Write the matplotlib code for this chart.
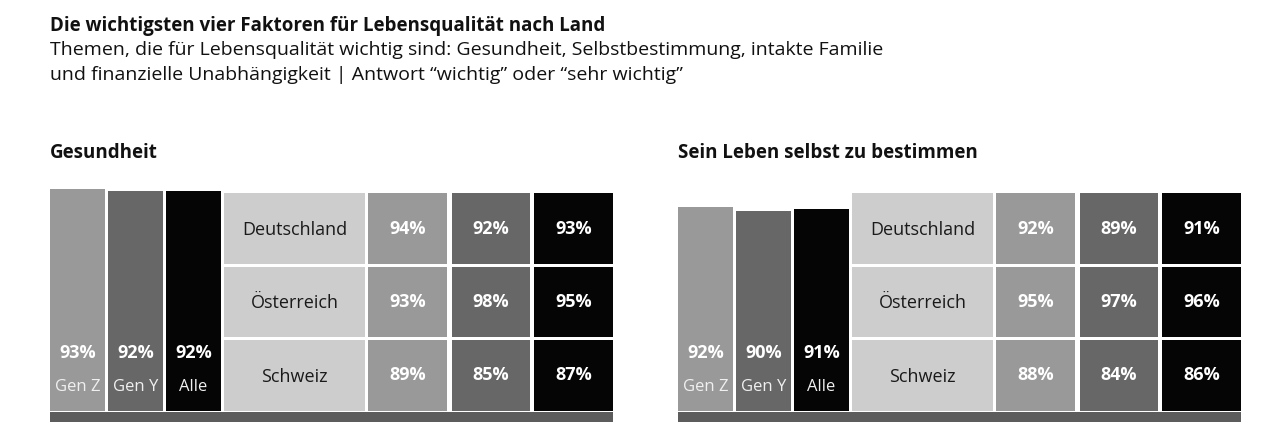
import matplotlib.pyplot as plt
from matplotlib.patches import Rectangle
from matplotlib.transforms import blended_transform_factory

plt.rcParams['font.family'] = ['Open Sans', 'DejaVu Sans']

gruppen = ['Gen Z', 'Gen Y', 'Alle']
laender = ['Deutschland', 'Österreich', 'Schweiz']

# Gesamtwerte je Gruppe und Werte je Land (Zeilen: Länder, Spalten: Gen Z, Gen Y, Alle)
gesundheit_gesamt = [93, 92, 92]
gesundheit_land = [[94, 92, 93],
                   [93, 98, 95],
                   [89, 85, 87]]

selbst_gesamt = [92, 90, 91]
selbst_land = [[92, 89, 91],
               [95, 97, 96],
               [88, 84, 86]]

farben = ['#999999', '#676767', '#050505']
hell = '#cdcdcd'
strich = '#5c5c5c'

W, H = 1280, 440
fig = plt.figure(figsize=(12.8, 4.4), dpi=100)


def box(x0, y0, x1, y1):
    return [x0 / W, 1 - y1 / H, (x1 - x0) / W, (y1 - y0) / H]


fig.text(50 / W, 1 - 26 / H, 'Die wichtigsten vier Faktoren für Lebensqualität nach Land',
         fontsize=13.5, fontweight='bold', va='center', color='#111111')
fig.text(50 / W, 1 - 50 / H,
         'Themen, die für Lebensqualität wichtig sind: Gesundheit, Selbstbestimmung, intakte Familie',
         fontsize=14, va='center', color='#111111')
fig.text(50 / W, 1 - 75 / H,
         'und finanzielle Unabhängigkeit | Antwort \u201cwichtig\u201d oder \u201csehr wichtig\u201d',
         fontsize=14, va='center', color='#111111')


def panel(dx, titel, gesamt, land, ymax):
    fig.text((50 + dx) / W, 1 - 153 / H, titel, fontsize=13.5, fontweight='bold',
             va='center', color='#111111')

    # Säulen für die Gruppen
    ax = fig.add_axes(box(50 + dx, 189, 221 + dx, 411))
    x = list(range(len(gruppen)))
    ax.bar(x, gesamt, width=0.945, color=farben)
    ax.set_xlim(-0.4725, 2.4725)
    ax.set_ylim(0, ymax)
    ax.axis('off')
    tr = blended_transform_factory(ax.transData, ax.transAxes)
    for i, (g, v) in enumerate(zip(gruppen, gesamt)):
        ax.text(i, 0.262, f'{v}%', transform=tr, ha='center', va='center',
                fontsize=13, fontweight='bold', color='white')
        ax.text(i, 0.11, g, transform=tr, ha='center', va='center',
                fontsize=12, color='#f0f0f0')

    # Tabelle nach Land
    tx = fig.add_axes(box(224 + dx, 193, 613 + dx, 411))
    tx.set_xlim(0, 389)
    tx.set_ylim(218, 0)
    tx.axis('off')
    spalten = [(144, 79), (228, 78), (310, 79)]
    zeilen = [(0, 71), (74, 70), (147, 71)]
    for r, name in enumerate(laender):
        top, h = zeilen[r]
        tx.bar(0, h, width=141, bottom=top, align='edge', color=hell)
        tx.text(70.5, top + h / 2 + 1.5, name, ha='center', va='center', fontsize=13,
                color='#1a1a1a')
        for c, (left, w) in enumerate(spalten):
            tx.bar(left, h, width=w, bottom=top, align='edge', color=farben[c])
            tx.text(left + w / 2, top + h / 2, f'{land[r][c]}%', ha='center',
                    va='center', fontsize=13, fontweight='bold', color='white')

    fig.add_artist(Rectangle(((50 + dx) / W, 1 - 422 / H), (563) / W, 10 / H,
                             transform=fig.transFigure, color=strich, lw=0))


panel(0, 'Gesundheit', gesundheit_gesamt, gesundheit_land, 93)
panel(628, 'Sein Leben selbst zu bestimmen', selbst_gesamt, selbst_land, 100)

fig.savefig('out.png', dpi=100, facecolor='white')
